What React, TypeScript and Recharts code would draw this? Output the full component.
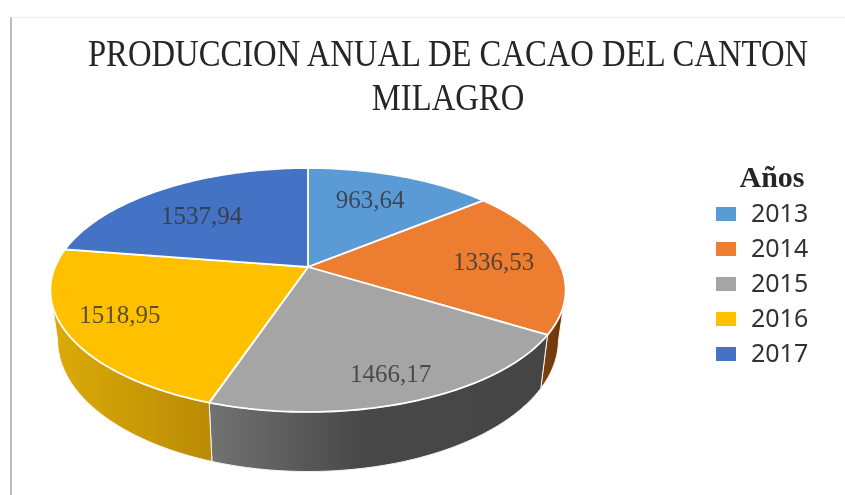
import React from "react";
import { PieChart, Pie, Cell, Legend } from "recharts";

const years = ["2013", "2014", "2015", "2016", "2017"];
const produccion = [963.64, 1336.53, 1466.17, 1518.95, 1537.94];
const colors = ["#5B9BD5", "#ED7D31", "#A5A5A5", "#FFC000", "#4472C4"];
const wallFills = ["#2f5f8f", "url(#wallOrange)", "url(#wallGray)", "url(#wallGold)", "#2a4a85"];
const titleLines = ["PRODUCCION ANUAL DE CACAO DEL CANTON", "MILAGRO"];
const legendTitle = "Años";

const data = years.map((name, i) => ({ name, value: produccion[i] }));

const K = 0.1885; // perspective strength
const TOP_B = 0.465; // vertical squash of the top face
const BOTTOM_A = 0.972; // bottom rim is slightly narrower
const BOTTOM_B = 0.502;
const BOTTOM_DY = 48;
const LABEL_NUDGE: [number, number][] = [
  [-10, 3],
  [-2, 0],
  [8, 11],
  [-13, -2],
  [5, 9],
];

type Pt = [number, number];

const project = (cx: number, cy: number, a: number, b: number, deg: number, r = 1): Pt => {
  const th = ((90 - deg) * Math.PI) / 180;
  const u = Math.sin(th) * r;
  const v = -Math.cos(th) * r;
  const d = 1 - K * v;
  return [cx + (a * u) / d, cy + (b * v) / d];
};

const isFront = (deg: number) => {
  const th = ((90 - deg) * Math.PI) / 180;
  return -Math.cos(th) >= K;
};

const toPath = (pts: Pt[]) =>
  pts.map((p, i) => `${i ? "L" : "M"}${p[0].toFixed(2)},${p[1].toFixed(2)}`).join(" ");

const sweep = (start: number, end: number) => {
  const steps = Math.max(2, Math.ceil(Math.abs(end - start)));
  const out: number[] = [];
  for (let i = 0; i <= steps; i++) out.push(start + ((end - start) * i) / steps);
  return out;
};

const Slice3D = (props: any) => {
  const { cx, cy, outerRadius: R, startAngle, endAngle, fill, index } = props;
  const angles = sweep(startAngle, endAngle);
  const topRim = angles.map((d) => project(cx, cy, R, R * TOP_B, d));
  const front = angles.filter(isFront);
  let wall: React.ReactNode = null;
  if (front.length > 1) {
    const upper = front.map((d) => project(cx, cy, R, R * TOP_B, d));
    const lower = front
      .map((d) => project(cx, cy + BOTTOM_DY, R * BOTTOM_A, R * BOTTOM_B, d))
      .reverse();
    wall = (
      <path
        d={toPath([...upper, ...lower]) + " Z"}
        fill={wallFills[index]}
        stroke="#f4f4f4"
        strokeWidth={1}
      />
    );
  }
  return (
    <g>
      {wall}
      <path
        d={toPath([[cx, cy], ...topRim]) + " Z"}
        fill={fill}
        stroke="#ffffff"
        strokeWidth={1.8}
        strokeLinejoin="round"
      />
    </g>
  );
};

const sliceLabel = (props: any) => {
  const { cx, cy, outerRadius: R, midAngle, value, index } = props;
  const [x, y] = project(cx, cy, R, R * TOP_B, midAngle, 0.75);
  const [dx, dy] = LABEL_NUDGE[index] || [0, 0];
  return (
    <text
      x={x + dx}
      y={y + dy}
      textAnchor="middle"
      dominantBaseline="central"
      fontFamily="'Liberation Serif', serif"
      fontSize={25}
      fill="#333333"
      fillOpacity={0.8}
    >
      {String(value).replace(".", ",")}
    </text>
  );
};

const LegendBox = ({ payload }: any) => (
  <div style={{ position: "relative", width: 110 }}>
    <div
      style={{
        fontFamily: "'Liberation Serif', serif",
        fontWeight: 700,
        fontSize: 30,
        lineHeight: "34px",
        textAlign: "center",
        color: "#262626",
        marginBottom: 1,
        width: 112,
      }}
    >
      {legendTitle}
    </div>
    {(payload || []).map((e: any) => (
      <div key={e.value} style={{ display: "flex", alignItems: "center", height: 34.8 }}>
        <span
          style={{
            width: 20,
            height: 14,
            background: e.color,
            marginRight: 15,
            marginTop: 4,
            flex: "none",
          }}
        />
        <span
          style={{
            fontFamily: "'Noto Sans', sans-serif",
            fontSize: 25,
            color: "#333333",
            lineHeight: "30px",
          }}
        >
          {e.value}
        </span>
      </div>
    ))}
  </div>
);

export default function App() {
  return (
    <div
      style={{
        position: "absolute",
        left: 0,
        top: 0,
        width: 845,
        height: 495,
        overflow: "hidden",
        background: "#fff",
        filter: "blur(0.5px)",
      }}
    >
      <div
        style={{
          position: "absolute",
          left: 10,
          top: 17,
          width: 835,
          height: 478,
          borderLeft: "2px solid #bdbdbd",
          borderTop: "1px solid #ececec",
          boxSizing: "border-box",
        }}
      />
      <PieChart
        width={845}
        height={495}
        margin={{ top: 0, right: 0, bottom: 0, left: 0 }}
        style={{ position: "absolute", left: 0, top: 0 }}
      >
        <defs>
          <linearGradient id="wallGold" x1="0" y1="0" x2="1" y2="0">
            <stop offset="0" stopColor="#dcab08" />
            <stop offset="1" stopColor="#b98b05" />
          </linearGradient>
          <linearGradient id="wallGray" x1="0" y1="0" x2="1" y2="0">
            <stop offset="0" stopColor="#727272" />
            <stop offset="0.45" stopColor="#484848" />
            <stop offset="1" stopColor="#454545" />
          </linearGradient>
          <linearGradient id="wallOrange" x1="0" y1="0" x2="1" y2="0">
            <stop offset="0" stopColor="#7d400f" />
            <stop offset="1" stopColor="#6b3609" />
          </linearGradient>
        </defs>
        <text
          transform="translate(448 66) scale(0.86 1)"
          textAnchor="middle"
          fontFamily="'Liberation Serif', serif"
          fontSize={38}
          fill="#262626"
        >
          {titleLines[0]}
        </text>
        <text
          transform="translate(448 110) scale(0.86 1)"
          textAnchor="middle"
          fontFamily="'Liberation Serif', serif"
          fontSize={38}
          fill="#262626"
        >
          {titleLines[1]}
        </text>
        <Pie
          data={data}
          dataKey="value"
          nameKey="name"
          cx={308}
          cy={267}
          outerRadius={253}
          startAngle={90}
          endAngle={-270}
          paddingAngle={0}
          stroke="none"
          shape={Slice3D}
          label={sliceLabel}
          labelLine={false}
          isAnimationActive={false}
        >
          {data.map((d, i) => (
            <Cell key={d.name} fill={colors[i]} />
          ))}
        </Pie>
        <Legend
          content={<LegendBox />}
          layout="vertical"
          align="right"
          verticalAlign="top"
          wrapperStyle={{ position: "absolute", left: 716, top: 160, right: "auto", width: 110 }}
        />
      </PieChart>
    </div>
  );
}
